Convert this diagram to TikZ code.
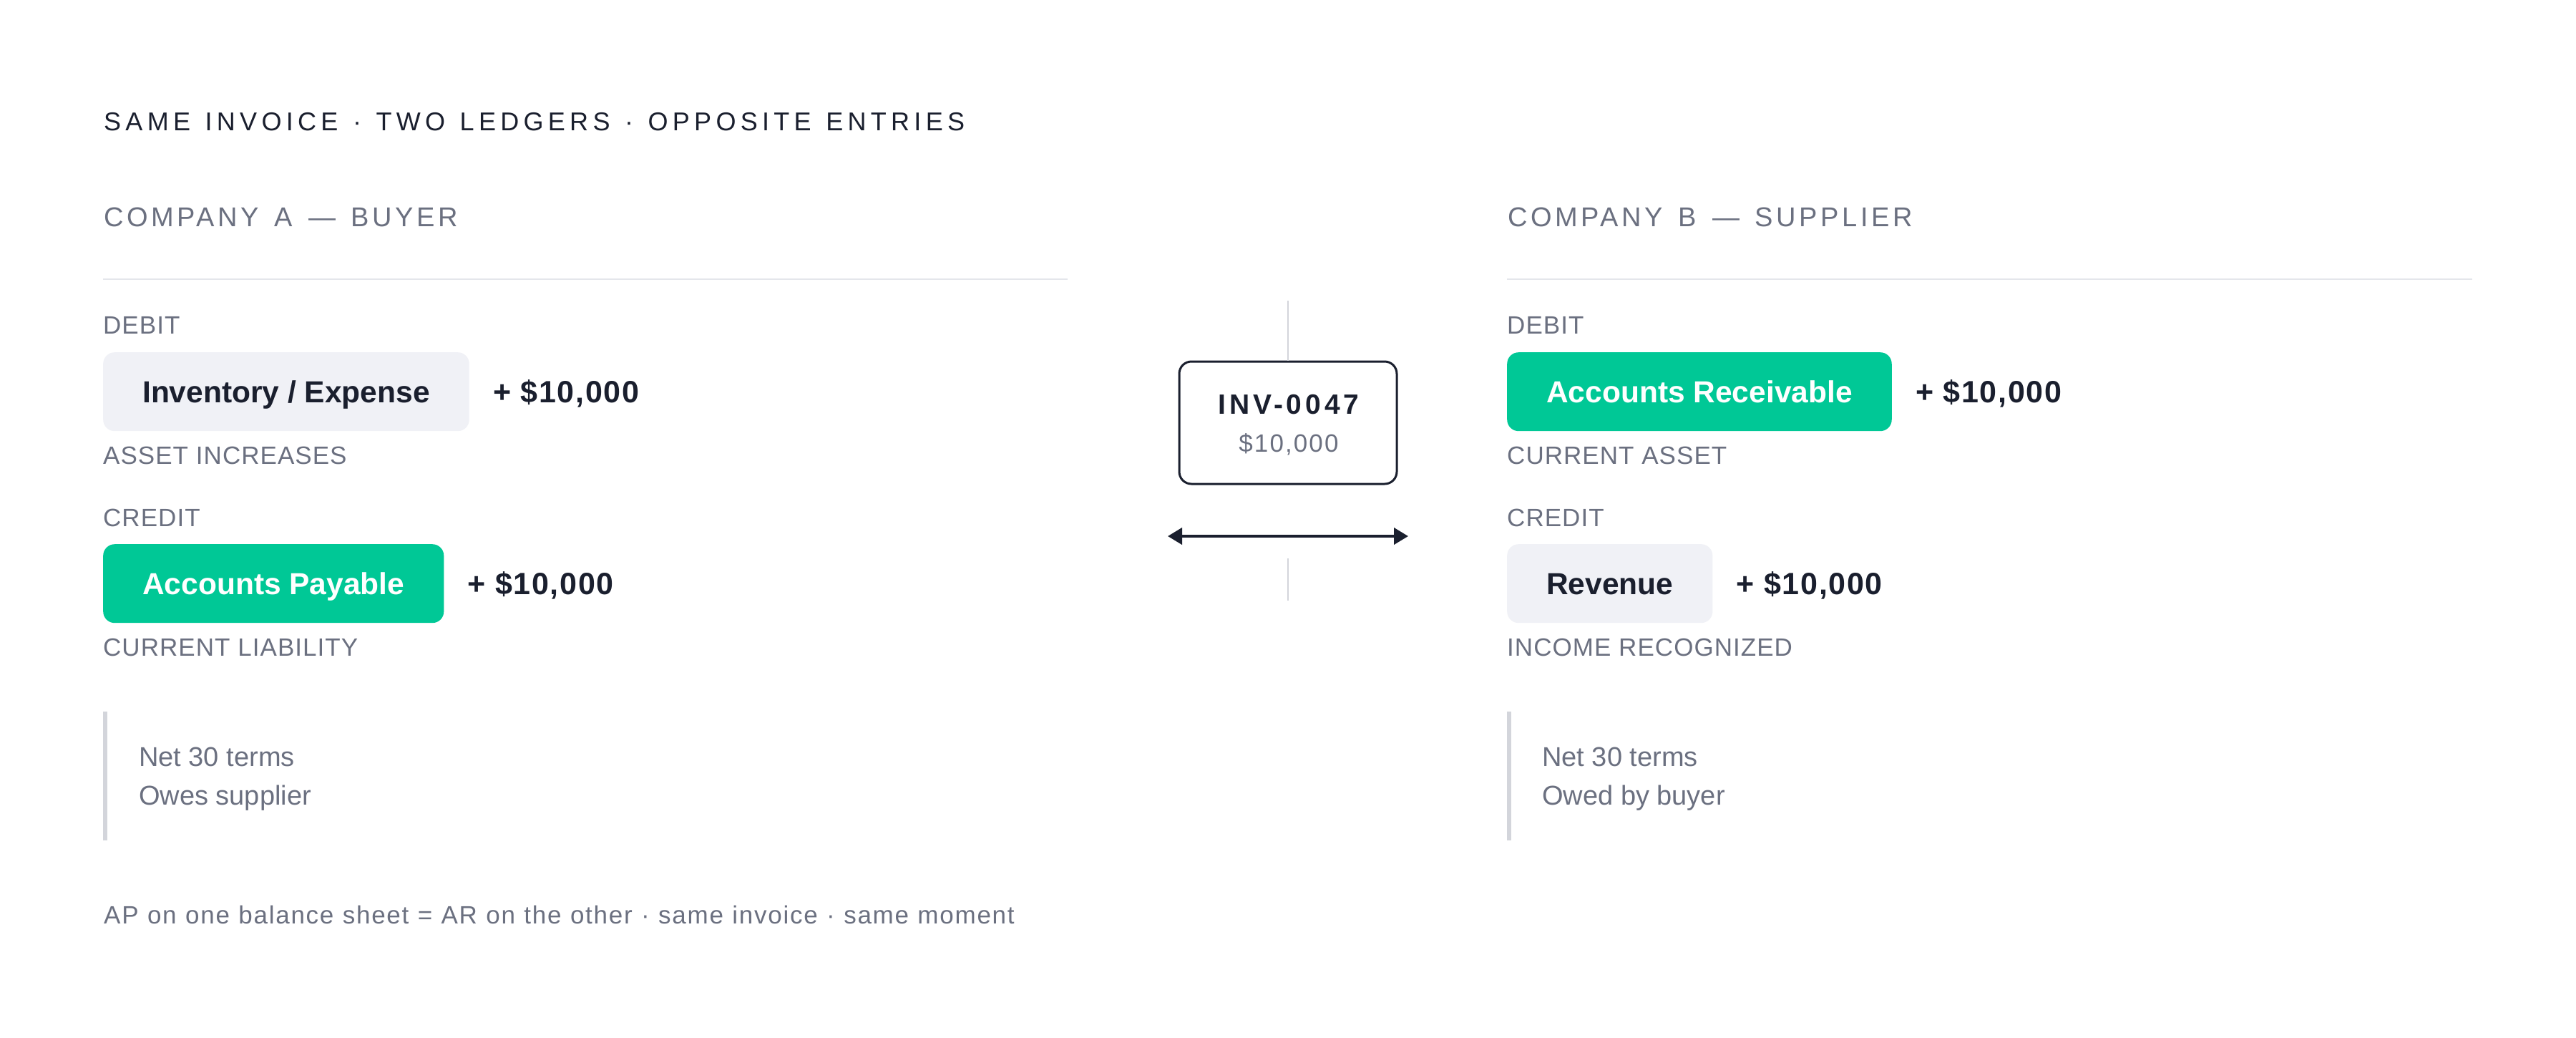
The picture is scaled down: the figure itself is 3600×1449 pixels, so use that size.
\documentclass[tikz,border=0pt]{standalone}
\usepackage{fontspec}
\setmainfont{Liberation Sans}
\usetikzlibrary{arrows.meta}
\definecolor{ink}{HTML}{1A1F2E}
\definecolor{muted}{HTML}{6B7080}
\definecolor{accent}{HTML}{00C896}
\definecolor{chip}{HTML}{F0F1F6}
\definecolor{rulec}{HTML}{E4E6EB}
\definecolor{barc}{HTML}{D3D5DB}
\newcommand\widerspaces[1]{\spaceskip=#1\fontdimen2\font\relax}
\tikzset{
  titletext/.style={anchor=base west, inner sep=0pt, text=ink,
    font={\fontsize{36}{40}\selectfont\addfontfeature{LetterSpace=17.5}\widerspaces{1.26}}},
  headtext/.style={anchor=base west, inner sep=0pt, text=muted,
    font={\fontsize{38}{44}\selectfont\addfontfeature{LetterSpace=12}\widerspaces{1.45}}},
  lbltext/.style={anchor=base west, inner sep=0pt, text=muted,
    font={\fontsize{35}{40}\selectfont\addfontfeature{LetterSpace=3}}},
  chipbox/.style={anchor=north west, rounded corners=16pt, inner xsep=55pt,
    inner ysep=0pt, minimum height=110pt, text height=30.4pt, text depth=0pt,
    font={\fontsize{42.5}{48}\selectfont\bfseries}},
  greybox/.style={chipbox, fill=chip, text=ink},
  greenbox/.style={chipbox, fill=accent, text=white},
  amttext/.style={anchor=west, inner sep=0pt, text height=30.8pt, text depth=0pt,
    text=ink, font={\fontsize{43}{48}\selectfont\bfseries\addfontfeature{LetterSpace=3.8}}},
  notetext/.style={anchor=base west, inner sep=0pt, text=muted,
    font={\fontsize{38}{44}\selectfont}},
  foottext/.style={anchor=base west, inner sep=0pt, text=muted,
    font={\fontsize{35}{40}\selectfont\addfontfeature{LetterSpace=5}\widerspaces{1.08}}},
  divider/.style={draw=rulec, line width=2.7pt},
  notebar/.style={fill=barc},
  vline/.style={draw=barc, line width=2.5pt},
  invbox/.style={draw=ink, line width=3pt, rounded corners=17pt, fill=white,
    minimum width=304pt, minimum height=171pt, inner sep=0pt},
  invid/.style={anchor=base, inner sep=0pt, text=ink,
    font={\fontsize{39}{44}\selectfont\bfseries\addfontfeature{LetterSpace=12.5}}},
  invamt/.style={anchor=base, inner sep=0pt, text=muted,
    font={\fontsize{35}{40}\selectfont\addfontfeature{LetterSpace=6}}},
  linkarrow/.style={draw=ink, line width=4pt,
    {Triangle[length=20pt,width=23pt]}-{Triangle[length=20pt,width=23pt]}},
}
\begin{document}
\begin{tikzpicture}[x=1pt,y=-1pt]
\fill[white] (0,0) rectangle (3600,1449);
\useasboundingbox (0,0) rectangle (3600,1449);

% title
\node[titletext] (title) at (145,182.3) {SAME INVOICE · TWO LEDGERS · OPPOSITE ENTRIES};

% ---------- Company A ----------
\node[headtext] (headA) at (145,316.7) {COMPANY A — BUYER};
\coordinate (divAl) at (144,390);
\coordinate (divAr) at (1492,390);
\draw[divider] (divAl) -- (divAr);

\node[lbltext] (debA) at (144,466.7) {DEBIT};
\node[greybox] (invexp) at (144,492) {Inventory / Expense};
\node[amttext] (amtA1) at ([xshift=33pt]invexp.east) {+ \$10,000};
\node[lbltext] (subA1) at (144,648) {ASSET INCREASES};

\node[lbltext] (credA) at (144,735) {CREDIT};
\node[greenbox] (ap) at (144,760) {Accounts Payable};
\node[amttext] (amtA2) at ([xshift=33pt]ap.east) {+ \$10,000};
\node[lbltext] (subA2) at (144,916) {CURRENT LIABILITY};

\fill[notebar] (144,994) rectangle (150,1174);
\node[notetext] (noteA1) at (194,1070) {Net 30 terms};
\node[notetext] (noteA2) at (194,1124) {Owes supplier};

% ---------- Company B ----------
\node[headtext] (headB) at (2107,316.7) {COMPANY B — SUPPLIER};
\coordinate (divBl) at (2106,390);
\coordinate (divBr) at (3455,390);
\draw[divider] (divBl) -- (divBr);

\node[lbltext] (debB) at (2106,466.7) {DEBIT};
\node[greenbox] (ar) at (2106,492) {Accounts Receivable};
\node[amttext] (amtB1) at ([xshift=33pt]ar.east) {+ \$10,000};
\node[lbltext] (subB1) at (2106,648) {CURRENT ASSET};

\node[lbltext] (credB) at (2106,735) {CREDIT};
\node[greybox] (rev) at (2106,760) {Revenue};
\node[amttext] (amtB2) at ([xshift=33pt]rev.east) {+ \$10,000};
\node[lbltext] (subB2) at (2106,916) {INCOME RECOGNIZED};

\fill[notebar] (2106,994) rectangle (2112,1174);
\node[notetext] (noteB1) at (2155,1070) {Net 30 terms};
\node[notetext] (noteB2) at (2155,1124) {Owed by buyer};

% ---------- middle ----------
\node[invbox] (inv) at (1800,590.5) {};
\node[invid] (invno) at (1801,578) {INV-0047};
\node[invamt] (invval) at (1801,631.7) {\$10,000};
\coordinate (vtop) at (1800,420);
\draw[vline] (vtop) -- (inv.north);
\coordinate (arL) at (1632,749);
\coordinate (arR) at (1968,749);
\draw[linkarrow] (arL) -- (arR);
\coordinate (vb1) at (1800,780);
\coordinate (vb2) at (1800,839);
\draw[vline] (vb1) -- (vb2);

% footer
\node[foottext] (foot) at (145,1290.7) {AP on one balance sheet = AR on the other · same invoice · same moment};
\end{tikzpicture}
\end{document}
